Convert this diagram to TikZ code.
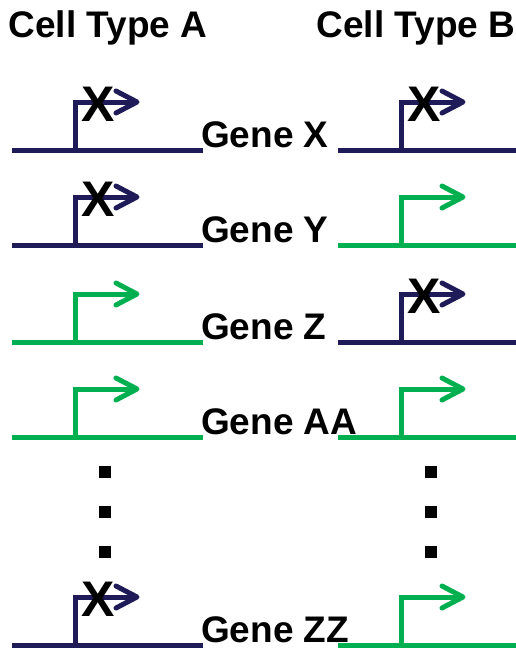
\documentclass[tikz,border=0pt]{standalone}
\usepackage{fontspec}
\setmainfont{Liberation Sans}
\definecolor{navy}{HTML}{1E1B58}
\definecolor{leaf}{HTML}{00B050}
\tikzset{
  dna/.style={line width=5pt},
  label/.style={font=\fontsize{37}{40}\selectfont\bfseries, inner sep=0pt},
  header/.style={font=\fontsize{37}{40}\selectfont\bfseries, inner sep=0pt, anchor=base},
  block/.style={font=\fontsize{50}{50}\selectfont\bfseries, inner sep=0pt},
  dot/.style={fill=black, minimum size=12pt, inner sep=0pt},
  promoter/.pic={
    \draw[dna, line join=miter] (0,0) |- (58,-48);
    \draw[dna, line cap=round, line join=round] (41,-59) -- (62,-48) -- (41,-37);
  }
}
\begin{document}
\begin{tikzpicture}[x=1pt,y=-1pt]
\useasboundingbox (0,0) rectangle (516,649);

% column headers
\node[header] (hA) at (108,37) {Cell Type A};
\node[header] (hB) at (416,37) {Cell Type B};

% one row per gene: baseline y, left colour, right colour
\foreach \y/\cl/\cr/\name [count=\i] in {150/navy/navy/Gene X, 245/navy/leaf/Gene Y, 342/leaf/navy/Gene Z, 437/leaf/leaf/Gene AA, 645/navy/leaf/Gene ZZ}{
  \draw[dna, \cl] (12,\y) -- (203,\y);
  \pic[\cl] at (75,\y) {promoter};
  \draw[dna, \cr] (338,\y) -- (516,\y);
  \pic[\cr] at (401,\y) {promoter};
  \node[label, anchor=base west] (g\i) at (201,\y-3) {\name};
}

% silenced promoters
\node[block] (xA1) at (98,104) {X};
\node[block] (xB1) at (424,104) {X};
\node[block] (xA2) at (98,199) {X};
\node[block] (xB3) at (424,296) {X};
\node[block] (xA5) at (98,599) {X};

% ellipsis between the rows
\foreach \y [count=\j] in {472,512,552}{
  \node[dot] (dl\j) at (105,\y) {};
  \node[dot] (dr\j) at (431,\y) {};
}
\end{tikzpicture}
\end{document}
